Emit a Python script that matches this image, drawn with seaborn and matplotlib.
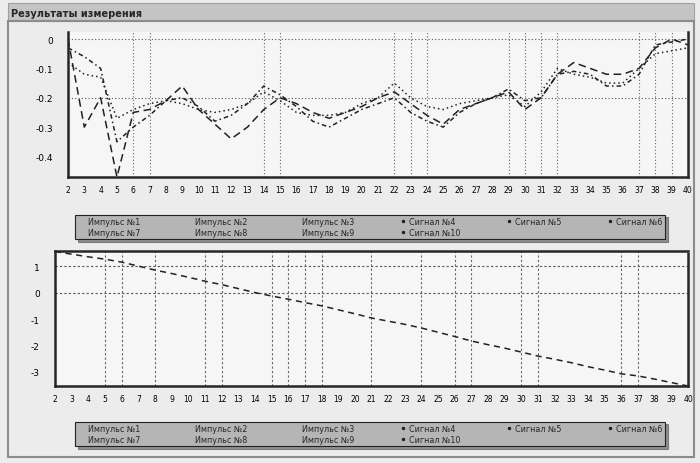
import numpy as np
import pandas as pd
import seaborn as sns
import matplotlib.pyplot as plt
from matplotlib.lines import Line2D
from matplotlib.patches import Rectangle

# measurement points
x_points = list(range(2, 41))

# upper panel: three visible traces
top_s1 = [0.0, -0.30, -0.20, -0.47, -0.25, -0.24, -0.21, -0.16, -0.24, -0.29,
          -0.34, -0.30, -0.24, -0.20, -0.22, -0.25, -0.27, -0.25, -0.23, -0.20,
          -0.18, -0.22, -0.26, -0.29, -0.24, -0.22, -0.20, -0.18, -0.24, -0.20,
          -0.12, -0.08, -0.10, -0.12, -0.12, -0.10, -0.03, 0.0, -0.02]
top_s2 = [-0.08, -0.12, -0.13, -0.27, -0.24, -0.22, -0.21, -0.22, -0.24, -0.25,
          -0.24, -0.22, -0.18, -0.21, -0.25, -0.26, -0.26, -0.25, -0.22, -0.20,
          -0.15, -0.20, -0.23, -0.24, -0.22, -0.21, -0.20, -0.19, -0.23, -0.18,
          -0.10, -0.12, -0.13, -0.15, -0.15, -0.10, -0.05, -0.04, -0.03]
top_s3 = [-0.03, -0.06, -0.10, -0.35, -0.30, -0.26, -0.21, -0.20, -0.23, -0.28,
          -0.26, -0.22, -0.16, -0.19, -0.23, -0.28, -0.30, -0.27, -0.24, -0.22,
          -0.20, -0.25, -0.28, -0.30, -0.25, -0.22, -0.20, -0.17, -0.21, -0.20,
          -0.12, -0.11, -0.12, -0.16, -0.16, -0.12, -0.02, -0.01, 0.0]

# lower panel: one trace
bot_s1 = [1.55, 1.45, 1.35, 1.26, 1.15, 1.0, 0.85, 0.72, 0.58, 0.43,
          0.3, 0.15, 0.0, -0.13, -0.25, -0.38, -0.5, -0.65, -0.8, -0.96,
          -1.08, -1.2, -1.34, -1.5, -1.66, -1.83, -1.97, -2.1, -2.25, -2.4,
          -2.52, -2.65, -2.8, -2.93, -3.07, -3.15, -3.27, -3.4, -3.53]

top_vlines = [6, 7, 14, 15, 22, 23, 24, 29, 30, 31, 32, 37, 38, 39]
bot_vlines = [5, 6, 8, 11, 12, 15, 16, 17, 18, 21, 24, 26, 27, 30, 31, 36, 37]

top_yticks = [0, -0.1, -0.2, -0.3, -0.4]
bot_yticks = [1, 0, -1, -2, -3]

legend_names = ["Импульс №1", "Импульс №2", "Импульс №3", "Сигнал №4", "Сигнал №5", "Сигнал №6",
                "Импульс №7", "Импульс №8", "Импульс №9", "Сигнал №10"]

title = "Результаты измерения"

sns.set_style("white")
plt.rcParams['font.family'] = ['DejaVu Sans']

fig = plt.figure(figsize=(7.0, 4.64), dpi=100, facecolor='#ececec')

# window decoration
fig.patches.append(Rectangle((0.012, 1 - 22/464), 0.98, 18/464, transform=fig.transFigure,
                             facecolor='#c4c4c4', edgecolor='#a0a0a0', lw=0.8, zorder=0))
fig.patches.append(Rectangle((0.012, 1 - 458/464), 0.98, 436/464, transform=fig.transFigure,
                             facecolor='none', edgecolor='#8c8c8c', lw=1.5, zorder=0))
fig.text(0.016, 1 - 14/464, title, fontsize=7, fontweight='bold', va='center', ha='left')

ax1 = fig.add_axes([68/700, 1 - 178/464, 620/700, 145/464])
ax2 = fig.add_axes([55/700, 1 - 387/464, 633/700, 135/464])

df_top = pd.DataFrame({
    'x': x_points * 3,
    'y': top_s1 + top_s2 + top_s3,
    'series': ['s1'] * len(x_points) + ['s2'] * len(x_points) + ['s3'] * len(x_points),
})
df_bot = pd.DataFrame({'x': x_points, 'y': bot_s1, 'series': ['s1'] * len(x_points)})

styles = {'s1': (0, (5, 3)), 's2': (0, (1, 2)), 's3': (0, (3, 2, 1, 2))}

for name, sub in df_top.groupby('series'):
    sns.lineplot(data=sub, x='x', y='y', ax=ax1, color='#222222', lw=1.1,
                 linestyle=styles[name], legend=False)
sns.lineplot(data=df_bot, x='x', y='y', ax=ax2, color='#222222', lw=1.1,
             linestyle=(0, (4, 3)), legend=False)


def style_axis(ax, ylim, yticks, hgrid, vlines, gridstyle, top_spine):
    ax.set_facecolor('#f6f6f6')
    ax.set_xlim(2, 40)
    ax.set_ylim(*ylim)
    ax.set_xlabel('')
    ax.set_ylabel('')
    ax.set_xticks(x_points)
    ax.set_xticklabels([str(v) for v in x_points], fontsize=5.5, color='black')
    ax.set_yticks(yticks)
    ax.set_yticklabels([str(v) for v in yticks], fontsize=6.5, color='black')
    ax.set_xticks(vlines, minor=True)
    ax.tick_params(axis='x', which='major', length=0, pad=6)
    ax.tick_params(axis='x', which='minor', length=3, width=0.8, color='#444444')
    ax.tick_params(axis='y', length=3, width=1, pad=8)
    for h in hgrid:
        ax.axhline(h, color='#555555', lw=0.8, linestyle=gridstyle, zorder=1)
    for v in vlines:
        ax.axvline(v, color='#666666', lw=0.8, linestyle=gridstyle, zorder=1)
    ax.spines['left'].set_linewidth(1.8)
    ax.spines['bottom'].set_linewidth(1.8)
    ax.spines['right'].set_linewidth(1.8)
    ax.spines['right'].set_linestyle((0, (2, 1)))
    ax.spines['top'].set_visible(top_spine)
    ax.spines['top'].set_linewidth(1.8)


style_axis(ax1, (-0.47, 0.024), top_yticks, [0, -0.2], top_vlines, (0, (1, 2)), False)
style_axis(ax2, (-3.53, 1.57), bot_yticks, [1, 0], bot_vlines, (0, (2, 2)), True)


def make_legend(y0, y1):
    handles = []
    for n in legend_names:
        if n.startswith("Импульс"):
            handles.append(Line2D([], [], linestyle='none'))
        else:
            handles.append(Line2D([], [], linestyle='none', marker='.', markersize=3, color='#222222'))
    # legend fills column by column; reorder so rows read 1..6 and 7..10
    order = [0, 6, 1, 7, 2, 8, 3, 9, 4, 5]
    leg = fig.legend([handles[i] for i in order], [legend_names[i] for i in order],
                     ncol=6, mode='expand', fontsize=5.8,
                     bbox_to_anchor=(75/700, 1 - y1/464, 590/700, (y1 - y0)/464),
                     loc='lower left', frameon=True, fancybox=False, shadow=True,
                     handlelength=1.0, handletextpad=0.3, borderpad=0.3,
                     labelspacing=0.2, columnspacing=0.5, borderaxespad=0)
    leg.get_frame().set_facecolor('#b5b5b5')
    leg.get_frame().set_edgecolor('#222222')
    leg.get_frame().set_linewidth(0.8)
    return leg


make_legend(207, 240)
make_legend(416, 447)

fig.savefig('out.png', dpi=100, facecolor=fig.get_facecolor())
